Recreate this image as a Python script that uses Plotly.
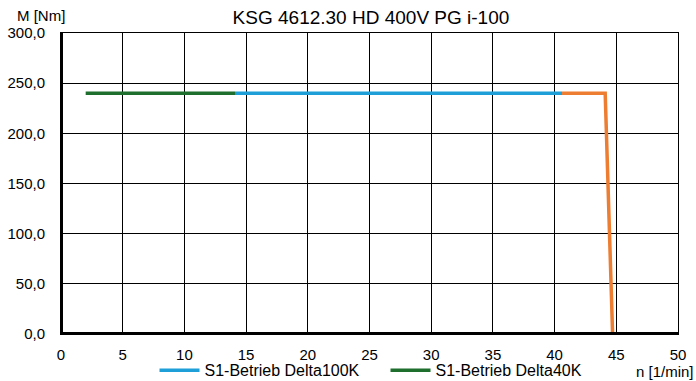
import plotly.graph_objects as go

# Data
delta100_n = [14.1, 40.6]
delta100_m = [240.0, 240.0]
delta40_n = [2.0, 14.1]
delta40_m = [240.0, 240.0]
limit_n = [40.6, 44.1, 44.7]
limit_m = [240.0, 240.0, 0.0]

x_ticks = [0, 5, 10, 15, 20, 25, 30, 35, 40, 45, 50]
y_ticks = [0, 50, 100, 150, 200, 250, 300]

fig = go.Figure()
fig.add_trace(go.Scatter(x=limit_n, y=limit_m, mode="lines",
                         line=dict(color="#ED7D31", width=3.5), showlegend=False))
fig.add_trace(go.Scatter(x=delta100_n, y=delta100_m, mode="lines", name="S1-Betrieb Delta100K",
                         line=dict(color="#1E9FD8", width=3.5)))
fig.add_trace(go.Scatter(x=delta40_n, y=delta40_m, mode="lines", name="S1-Betrieb Delta40K",
                         line=dict(color="#1E6E2E", width=3.5)))

font = "Liberation Sans, Arial, sans-serif"
fig.update_layout(
    width=696, height=381,
    margin=dict(l=61, r=18, t=33, b=47, autoexpand=False),
    paper_bgcolor="white", plot_bgcolor="white",
    separators=",.",
    font=dict(family=font, size=15, color="black"),
    title=dict(text="KSG 4612.30 HD 400V PG i-100", x=0.533, xanchor="center",
               xref="container", yref="container",
               y=0.955, yanchor="middle", font=dict(size=19, family=font)),
    xaxis=dict(range=[0, 50], tickvals=x_ticks, ticktext=[str(v) for v in x_ticks],
               showgrid=True, gridcolor="black", gridwidth=1, zeroline=False,
               showline=True, linecolor="black", linewidth=1, mirror=True,
               ticks="", tickfont=dict(size=15), ticklabelstandoff=7, automargin=False),
    yaxis=dict(range=[0, 300], tickvals=y_ticks, tickformat=".1f",
               showgrid=True, gridcolor="black", gridwidth=1, zeroline=False,
               showline=True, linecolor="black", linewidth=1, mirror=True,
               ticks="", tickfont=dict(size=15), ticklabelstandoff=12, automargin=False),
    legend=dict(orientation="h", xref="container", yref="container",
                x=0.222, xanchor="left", y=0.028, yanchor="middle",
                font=dict(size=16), bgcolor="rgba(0,0,0,0)", itemwidth=40,
                entrywidth=176, tracegroupgap=0),
    showlegend=True,
)

# thick left and bottom axis lines
fig.add_shape(type="line", xref="x", yref="paper", x0=0, x1=0, y0=0, y1=1,
              line=dict(color="black", width=4))
fig.add_shape(type="line", xref="paper", yref="y", x0=0, x1=1, y0=0, y1=0,
              line=dict(color="black", width=4))

fig.add_annotation(text="M [Nm]", xref="paper", yref="paper", x=-0.0324, y=1.058,
                   xanchor="center", yanchor="middle", showarrow=False,
                   font=dict(size=15))
fig.add_annotation(text="n [1/min]", xref="paper", yref="paper", x=0.979, y=-0.1235,
                   xanchor="center", yanchor="middle", showarrow=False,
                   font=dict(size=15))

fig.write_html("out.html", config={"displayModeBar": False},
               post_script="document.body.style.margin='0';document.body.style.overflow='hidden';")
